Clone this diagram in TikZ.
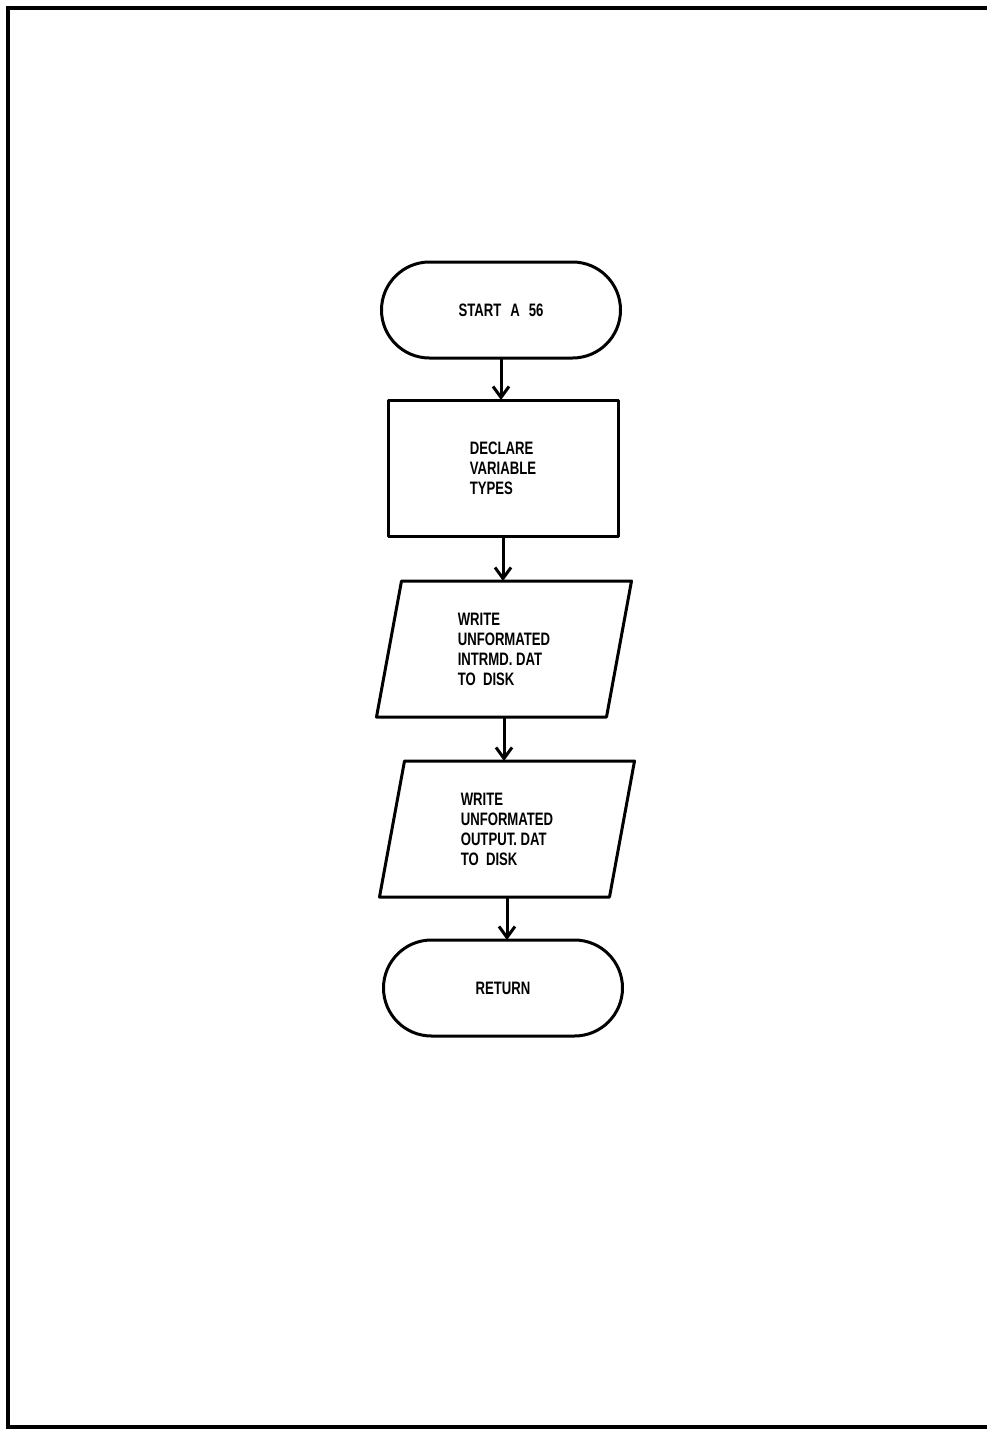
\documentclass[tikz,border=0pt]{standalone}
\usepackage{fontspec}
\setmainfont{Liberation Sans}[FakeStretch=0.73]
\usetikzlibrary{shapes.misc,arrows.meta}
\begin{document}
\begin{tikzpicture}[x=1pt,y=-1pt,
  every node/.style={font=\fontsize{18}{20}\selectfont\bfseries, align=left, inner sep=0pt, outer sep=0pt},
  shapeline/.style={draw=black, line width=3pt, line join=round},
  term/.style={shapeline, rounded rectangle, minimum width=239pt, minimum height=96pt},
  procbox/.style={shapeline, rectangle, minimum width=230pt, minimum height=136pt},
  iobox/.style={rectangle, minimum width=230pt, minimum height=136pt},
  flow/.style={line width=3pt, -{Straight Barb[length=11pt,width=16pt,line width=3pt]}},
  frameline/.style={line width=3.5pt}
]
\useasboundingbox (0,0) rectangle (987,1429);
\fill[white] (0,0) rectangle (987,1429);
\draw[frameline] (987,8) -- (8,8) -- (8,1427) -- (987,1427);

\node[term] (start) at (501,310) {START\hspace{0.5em}A\hspace{0.5em}56};
\node[procbox] (decl) at (503,468) {DECLARE\\VARIABLE\\TYPES};
\node[iobox] (w1) at (504,649) {WRITE\\UNFORMATED\\INTRMD.\ DAT\\TO\ \ DISK};
\node[iobox] (w2) at (507,829) {WRITE\\UNFORMATED\\OUTPUT.\ DAT\\TO\ \ DISK};
\node[term] (ret) at (503,988) {RETURN};

\foreach \n in {w1,w2}{
  \draw[shapeline] ([xshift=12.5pt]\n.north west) -- ([xshift=12.5pt]\n.north east)
    -- ([xshift=-12.5pt]\n.south east) -- ([xshift=-12.5pt]\n.south west) -- cycle;
}

\draw[flow] (start.south) -- (start.south |- decl.north);
\draw[flow] (decl.south) -- (decl.south |- w1.north);
\draw[flow] (w1.south) -- (w1.south |- w2.north);
\draw[flow] (w2.south) -- (w2.south |- ret.north);
\end{tikzpicture}
\end{document}
